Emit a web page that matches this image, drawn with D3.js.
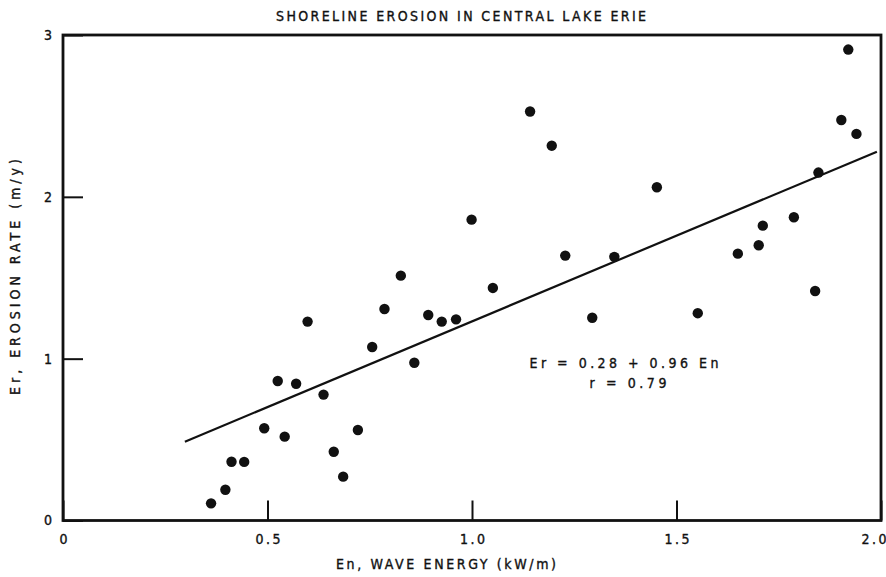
<!DOCTYPE html>
<html>
<head>
<meta charset="utf-8">
<script src="https://cdn.jsdelivr.net/npm/d3@7"></script>
<style>
  html, body { margin: 0; padding: 0; background: #fff; }
  svg { display: block; }
  text { font-family: "Liberation Sans Narrow", "DejaVu Sans Condensed", sans-serif; fill: #111; stroke: #111; stroke-width: 0.35; }
</style>
</head>
<body>
<svg id="chart" width="886" height="577"></svg>
<script>
// ---- data ----
const titleText = "SHORELINE EROSION IN CENTRAL LAKE ERIE";
const xTitle = "En, WAVE ENERGY (kW/m)";
const yTitle = "Er, EROSION RATE (m/y)";
const equationLines = ["Er = 0.28 + 0.96 En", "r = 0.79"];

const xTicks = [0, 0.5, 1.0, 1.5, 2.0];
const xTickLabels = ["0", "0.5", "1.0", "1.5", "2.0"];
const yTicks = [0, 1, 2, 3];
const yTickLabels = ["0", "1", "2", "3"];

const waveEnergy = [
  0.598, 0.525, 0.570, 0.637, 0.492, 0.542, 0.721, 0.412, 0.443, 0.662,
  0.685, 0.397, 0.362, 1.142, 1.195, 0.999, 1.228, 1.348, 0.826, 1.051,
  0.786, 0.893, 0.926, 0.961, 1.294, 0.756, 0.859, 1.920, 1.903, 1.940,
  1.452, 1.847, 1.787, 1.711, 1.701, 1.650, 1.839, 1.552
];
const erosionRate = [
  1.229, 0.862, 0.845, 0.778, 0.570, 0.518, 0.559, 0.363, 0.362, 0.425,
  0.271, 0.190, 0.106, 2.527, 2.316, 1.859, 1.637, 1.629, 1.513, 1.437,
  1.307, 1.270, 1.229, 1.243, 1.253, 1.072, 0.975, 2.910, 2.475, 2.389,
  2.059, 2.150, 1.874, 1.822, 1.701, 1.649, 1.418, 1.281
];

// drawn regression line endpoints (as shown on figure)
const fitX = [0.298, 1.990];
const fitY = [0.487, 2.279];

// ---- layout ----
const svg = d3.select("#chart");
const mLeft = 63, mRight = 881, mTop = 35, mBottom = 520.5;
const FONT = "Liberation Sans Narrow, DejaVu Sans Condensed, sans-serif";

const x = d3.scaleLinear().domain([0, 2]).range([mLeft, mRight]);
const y = d3.scaleLinear().domain([0, 3]).range([mBottom, mTop]);

// title
svg.append("text")
  .attr("x", 461).attr("y", 21)
  .attr("text-anchor", "middle")
  .attr("font-size", 14)
  .attr("textLength", 370).attr("lengthAdjust", "spacing")
  .text(titleText);

// x axis
const xAxis = d3.axisBottom(x)
  .tickValues(xTicks)
  .tickFormat((d, i) => xTickLabels[i])
  .tickSizeInner(-20).tickSizeOuter(0).tickPadding(14);
const gx = svg.append("g").attr("transform", `translate(0,${mBottom})`).call(xAxis);
gx.select(".domain").remove();
gx.selectAll("line").attr("stroke", "#111").attr("stroke-width", 2);
gx.selectAll("text")
  .attr("font-size", 14).attr("fill", "#111").attr("font-family", FONT)
  .attr("stroke", "#111").attr("stroke-width", 0.35)
  .each(function(d, i) {
    const t = d3.select(this);
    if (xTickLabels[i].length > 1) t.attr("textLength", 25).attr("lengthAdjust", "spacing");
    if (i === xTickLabels.length - 1) t.attr("text-anchor", "end").attr("x", 5);
  });

// y axis
const yAxis = d3.axisLeft(y)
  .tickValues(yTicks)
  .tickFormat((d, i) => yTickLabels[i])
  .tickSizeInner(-20).tickSizeOuter(0).tickPadding(11);
const gy = svg.append("g").attr("transform", `translate(${mLeft},0)`).call(yAxis);
gy.select(".domain").remove();
gy.selectAll("line").attr("stroke", "#111").attr("stroke-width", 2);
gy.selectAll("text")
  .attr("font-size", 14).attr("fill", "#111").attr("font-family", FONT)
  .attr("stroke", "#111").attr("stroke-width", 0.35);

// frame
svg.append("rect")
  .attr("x", mLeft).attr("y", mTop)
  .attr("width", mRight - mLeft).attr("height", mBottom - mTop)
  .attr("fill", "none").attr("stroke", "#111").attr("stroke-width", 2.8);

// axis titles
svg.append("text")
  .attr("x", 446).attr("y", 569)
  .attr("text-anchor", "middle")
  .attr("font-size", 14)
  .attr("textLength", 220).attr("lengthAdjust", "spacing")
  .text(xTitle);

svg.append("text")
  .attr("transform", `translate(20,277) rotate(-90)`)
  .attr("text-anchor", "middle")
  .attr("font-size", 14)
  .attr("textLength", 236).attr("lengthAdjust", "spacing")
  .text(yTitle);

// regression line
svg.append("line")
  .attr("x1", x(fitX[0])).attr("y1", y(fitY[0]))
  .attr("x2", x(fitX[1])).attr("y2", y(fitY[1]))
  .attr("stroke", "#111").attr("stroke-width", 2.2);

// points
const pts = waveEnergy.map((v, i) => ({ x: v, y: erosionRate[i] }));
svg.append("g").selectAll("circle").data(pts).join("circle")
  .attr("cx", d => x(d.x)).attr("cy", d => y(d.y))
  .attr("r", 5.2).attr("fill", "#111");

// equation
svg.append("text")
  .attr("x", 624).attr("y", 368)
  .attr("text-anchor", "middle")
  .attr("font-size", 14)
  .attr("textLength", 189).attr("lengthAdjust", "spacing")
  .text(equationLines[0]);
svg.append("text")
  .attr("x", 628).attr("y", 388)
  .attr("text-anchor", "middle")
  .attr("font-size", 14)
  .attr("textLength", 77).attr("lengthAdjust", "spacing")
  .text(equationLines[1]);
</script>
</body>
</html>
